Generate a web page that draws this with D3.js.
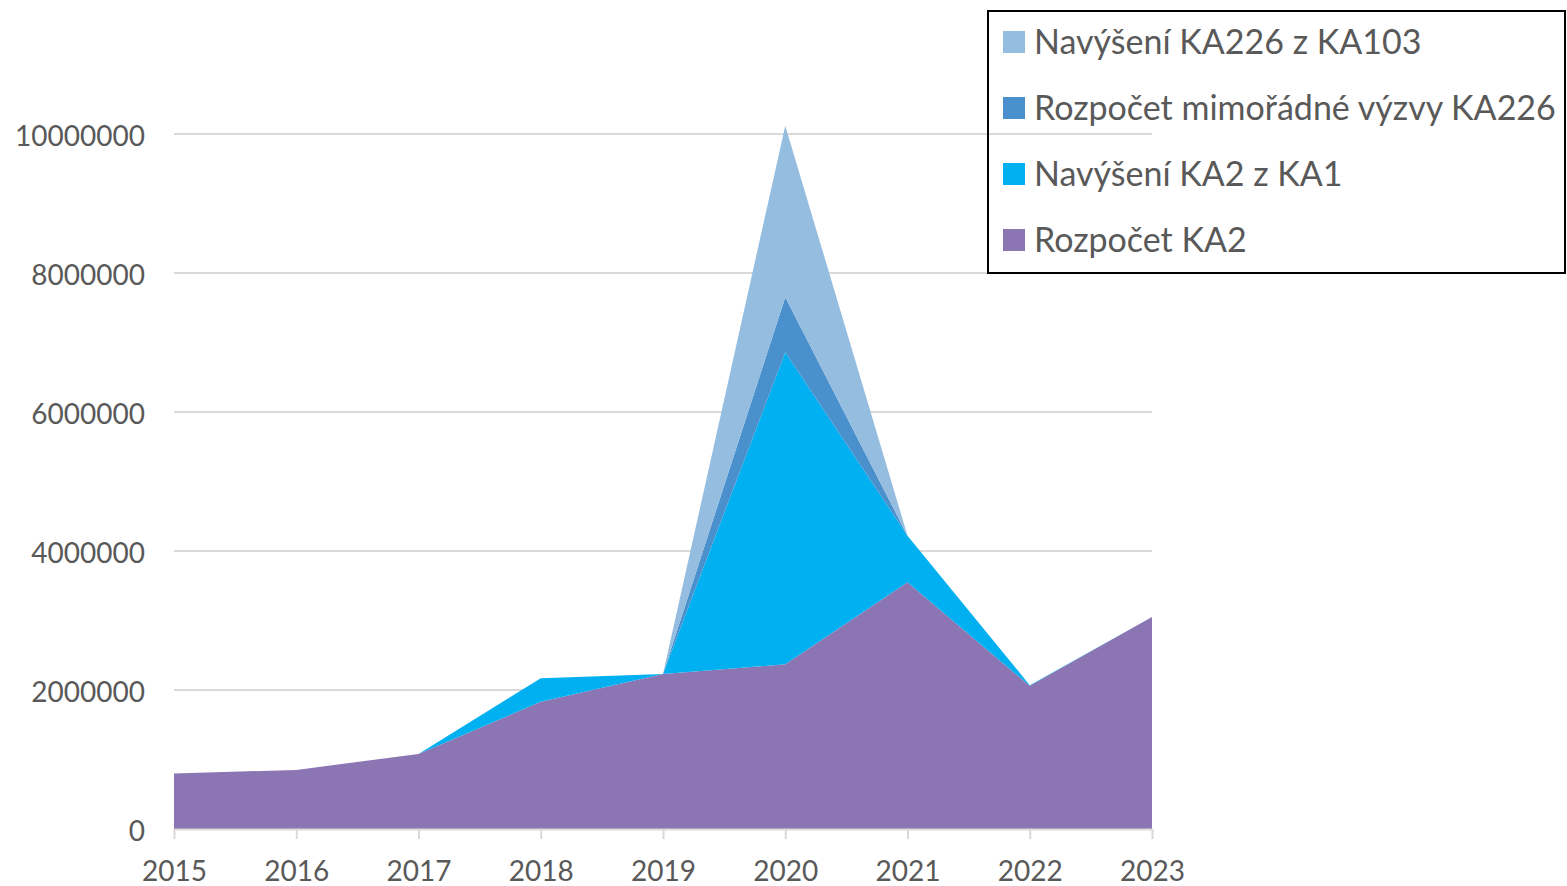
<!DOCTYPE html>
<html lang="cs">
<head>
<meta charset="UTF-8">
<title>Rozpočet KA2</title>
<script src="https://d3js.org/d3.v7.min.js"></script>
<style>
  body { margin: 0; background: #fff; }
  text { font-family: Lato, "Open Sans", sans-serif; fill: #595959; }
  .grid line { stroke: #d9d9d9; stroke-width: 2px; }
  .axis path, .axis line { stroke: #d9d9d9; stroke-width: 2px; }
</style>
</head>
<body>
<script>
// years on the x axis
var years = [2015, 2016, 2017, 2018, 2019, 2020, 2021, 2022, 2023];

// series values (CZK)
var rozpocetKA2      = [800000, 850000, 1080000, 1830000, 2230000, 2370000, 3550000, 2060000, 3050000];
var navyseniKA2zKA1  = [0, 0, 0, 340000, 0, 4490000, 670000, 10000, 0];
var rozpocetKA226    = [0, 0, 0, 0, 0, 790000, 0, 0, 0];
var navyseniKA226    = [0, 0, 0, 0, 0, 2470000, 0, 0, 0];

var seriesNames = ["Rozpočet KA2", "Navýšení KA2 z KA1", "Rozpočet mimořádné výzvy KA226", "Navýšení KA226 z KA103"];
var seriesKeys  = ["ka2", "ka2ka1", "ka226", "ka226ka103"];
var colors      = ["#8b75b3", "#00b0f0", "#4a90cd", "#95bde0"];

var yTicks = [0, 2000000, 4000000, 6000000, 8000000, 10000000];

var W = 1567, H = 886;

var table = years.map(function(y, i) {
  return { year: y, ka2: rozpocetKA2[i], ka2ka1: navyseniKA2zKA1[i], ka226: rozpocetKA226[i], ka226ka103: navyseniKA226[i] };
});

var svg = d3.select("body").append("svg")
    .attr("width", W)
    .attr("height", H);

var x = d3.scaleLinear()
    .domain([2015, 2023])
    .range([174, 1152]);

var y = d3.scaleLinear()
    .domain([0, 10000000])
    .range([829, 134]);

// gridlines
svg.append("g")
    .attr("class", "grid")
    .selectAll("line")
    .data(yTicks.slice(1))
    .enter().append("line")
    .attr("x1", x(2015))
    .attr("x2", x(2023))
    .attr("y1", function(d) { return y(d); })
    .attr("y2", function(d) { return y(d); });

var stack = d3.stack().keys(seriesKeys);
var layers = stack(table);

var area = d3.area()
    .x(function(d) { return x(d.data.year); })
    .y0(function(d) { return y(d[0]); })
    .y1(function(d) { return y(d[1]); });

svg.append("g")
    .selectAll("path")
    .data(layers)
    .enter().append("path")
    .attr("fill", function(d, i) { return colors[i]; })
    .attr("d", area);

// x axis
var xAxis = svg.append("g")
    .attr("class", "axis")
    .attr("transform", "translate(0," + y(0) + ")")
    .call(d3.axisBottom(x).tickValues(years).tickFormat(d3.format("d")).tickSizeInner(10).tickSizeOuter(0).tickPadding(22));
xAxis.selectAll("text").style("font-size", "28px").attr("fill", "#595959");

// y axis labels
var yAxis = svg.append("g")
    .attr("class", "axis")
    .attr("transform", "translate(" + x(2015) + ",0)")
    .call(d3.axisLeft(y).tickValues(yTicks).tickFormat(d3.format("d")).tickSize(0).tickPadding(29));
yAxis.select(".domain").remove();
yAxis.selectAll("text").style("font-size", "28px").attr("fill", "#595959").attr("dy", "0.40em");

// legend (reverse order, top series first)
var legend = svg.append("g");
legend.append("rect")
    .attr("x", 988)
    .attr("y", 11)
    .attr("width", 577)
    .attr("height", 262)
    .attr("fill", "none")
    .attr("stroke", "#000")
    .attr("stroke-width", 2);

var items = legend.selectAll(".item")
    .data(d3.range(seriesNames.length).reverse())
    .enter().append("g")
    .attr("transform", function(d, i) { return "translate(1003," + (42 + i * 66) + ")"; });

items.append("rect")
    .attr("x", 0)
    .attr("y", -11)
    .attr("width", 22)
    .attr("height", 22)
    .attr("fill", function(d) { return colors[d]; });

items.append("text")
    .attr("x", 31)
    .attr("dy", "0.36em")
    .style("font-size", "34px")
    .text(function(d) { return seriesNames[d]; });
</script>
</body>
</html>
